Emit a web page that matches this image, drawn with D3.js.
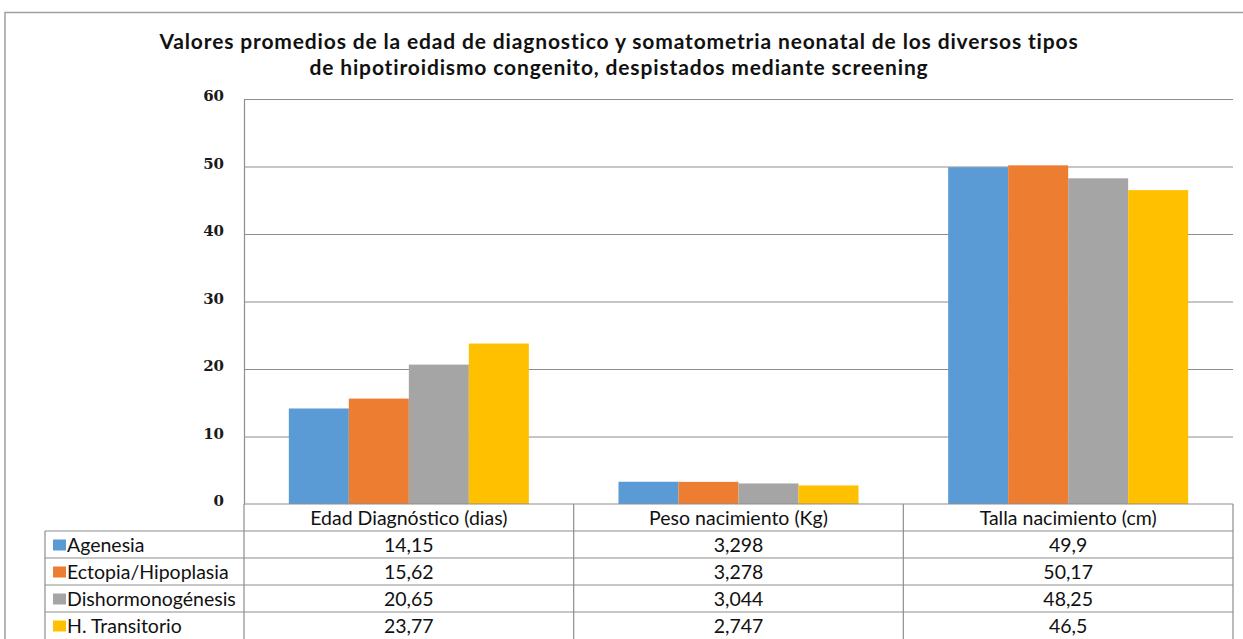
<!DOCTYPE html>
<html>
<head>
<meta charset="utf-8">
<script src="https://cdn.jsdelivr.net/npm/d3@7"></script>
<style>
  body { margin: 0; background: #fff; }
  svg { display: block; }
</style>
</head>
<body>
<div class="container"></div>
<script>
const categories = ['Edad Diagnóstico (dias)', 'Peso nacimiento (Kg)', 'Talla nacimiento (cm)'];
const seriesNames = ['Agenesia', 'Ectopia/Hipoplasia', 'Dishormonogénesis', 'H. Transitorio'];
const agenesia = [14.15, 3.298, 49.9];
const ectopia = [15.62, 3.278, 50.17];
const dishormono = [20.65, 3.044, 48.25];
const transitorio = [23.77, 2.747, 46.5];
const yTicks = [0, 10, 20, 30, 40, 50, 60];
const titleLines = ['Valores promedios de la edad de diagnostico y somatometria neonatal de los diversos tipos',
                    'de hipotiroidismo congenito, despistados mediante screening'];

const seriesValues = [agenesia, ectopia, dishormono, transitorio];
const colors = ['#5b9bd5', '#ed7d31', '#a5a5a5', '#ffc000'];

const width = 1243, height = 639;
const plotLeft = 244, plotRight = 1233, plotTop = 99, plotBottom = 504;
const rowH = 27;
const tableLeft = 45;
const gridColor = '#8e8e8e';

const svg = d3.select('.container').append('svg')
    .attr('width', width)
    .attr('height', height);

// outer frame
svg.append('path')
    .attr('d', `M5,${height} L5,12.5 L${width},12.5`)
    .attr('fill', 'none')
    .attr('stroke', '#a0a0a0')
    .attr('stroke-width', 1.5);

// title
svg.append('g').selectAll('text')
    .data(titleLines)
    .enter().append('text')
    .attr('x', 619)
    .attr('y', (d, i) => 49 + i * 26)
    .attr('text-anchor', 'middle')
    .style('font-family', 'Lato, sans-serif')
    .style('font-weight', 'bold')
    .style('font-size', '21px')
    .style('letter-spacing', '0.85px')
    .style('fill', '#111')
    .text(d => d);

const yScale = d3.scaleLinear().domain([0, 60]).range([plotBottom, plotTop]);

const xScale = d3.scaleBand()
    .domain(categories)
    .range([plotLeft, plotRight])
    .padding(0);

const xInner = d3.scaleBand()
    .domain(seriesNames)
    .range([0, xScale.bandwidth()])
    .paddingInner(0)
    .paddingOuter(0.747);

// grid lines
const grid = svg.append('g')
    .attr('transform', `translate(${plotLeft},0)`)
    .call(d3.axisLeft(yScale).tickValues(yTicks.slice(1)).tickSize(-(plotRight - plotLeft)).tickFormat(''));
grid.select('.domain').remove();
grid.selectAll('line').attr('stroke', gridColor).attr('stroke-width', 1.2);

// y axis labels
const yAxis = svg.append('g')
    .attr('transform', `translate(${plotLeft},0)`)
    .call(d3.axisLeft(yScale).tickValues(yTicks).tickSize(0).tickPadding(20));
yAxis.select('.domain').attr('stroke', gridColor).attr('stroke-width', 1.2);
yAxis.selectAll('text')
    .attr('dy', '0.1em')
    .style('font-family', '"DejaVu Serif", serif')
    .style('font-weight', 'bold')
    .style('font-size', '15px')
    .style('fill', '#1a1a1a');

// bars
seriesValues.forEach((vals, s) => {
  svg.append('g').selectAll('rect')
    .data(vals)
    .enter().append('rect')
    .attr('x', (d, i) => xScale(categories[i]) + xInner(seriesNames[s]))
    .attr('y', d => yScale(d))
    .attr('width', xInner.bandwidth())
    .attr('height', d => plotBottom - yScale(d))
    .attr('fill', colors[s]);
});

// data table
const table = svg.append('g');
const lineAttrs = sel => sel.attr('stroke', gridColor).attr('stroke-width', 1.2);

// horizontal lines
lineAttrs(table.append('line').attr('x1', plotLeft).attr('x2', plotRight).attr('y1', plotBottom).attr('y2', plotBottom));
for (let r = 1; r <= 4; r++) {
  lineAttrs(table.append('line')
    .attr('x1', tableLeft).attr('x2', plotRight)
    .attr('y1', plotBottom + r * rowH).attr('y2', plotBottom + r * rowH));
}
// vertical lines
lineAttrs(table.append('line').attr('x1', tableLeft).attr('x2', tableLeft).attr('y1', plotBottom + rowH).attr('y2', height));
categories.forEach(c => {
  lineAttrs(table.append('line').attr('x1', xScale(c)).attr('x2', xScale(c)).attr('y1', plotBottom).attr('y2', height));
});
lineAttrs(table.append('line').attr('x1', plotRight).attr('x2', plotRight).attr('y1', plotBottom).attr('y2', height));

const cellFont = sel => sel
    .style('font-family', 'Lato, sans-serif')
    .style('font-size', '19.5px')
    .style('fill', '#111');

// header
table.selectAll('.head')
    .data(categories)
    .enter().append('text')
    .attr('class', 'head')
    .attr('x', d => xScale(d) + xScale.bandwidth() / 2)
    .attr('y', plotBottom + rowH / 2 + 7)
    .attr('text-anchor', 'middle')
    .call(cellFont)
    .text(d => d);

seriesNames.forEach((name, s) => {
  const cy = plotBottom + (s + 1) * rowH + rowH / 2;
  table.append('rect')
    .attr('x', 53).attr('y', cy - 5)
    .attr('width', 13).attr('height', 11)
    .attr('fill', colors[s]);
  table.append('text')
    .attr('x', 67).attr('y', cy + 7)
    .call(cellFont)
    .text(name);
  table.append('g').selectAll('text')
    .data(seriesValues[s])
    .enter().append('text')
    .attr('x', (d, i) => xScale(categories[i]) + xScale.bandwidth() / 2)
    .attr('y', cy + 7)
    .attr('text-anchor', 'middle')
    .call(cellFont)
    .text(d => String(d).replace('.', ','));
});
</script>
</body>
</html>
